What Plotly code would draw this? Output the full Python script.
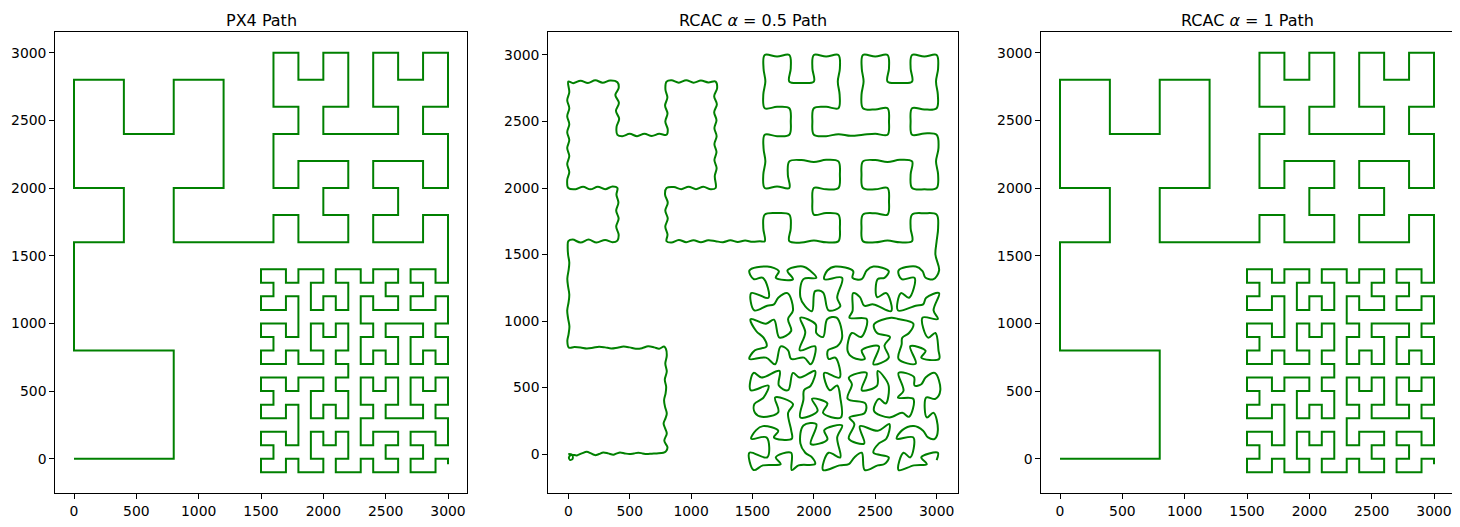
import plotly.graph_objects as go

# PX4 track: corner points of the nested Hilbert-style pattern
px4_x = [
    0, 800, 800, 0, 0, 400, 400, 0, 0, 400, 400, 800, 800, 1200, 1200, 800, 800,
    1600, 1600, 1800, 1800, 2200, 2200, 2000, 2000, 2200, 2200, 1800, 1800, 1600, 1600, 1800, 1800,
    1600, 1600, 1800, 1800, 2000, 2000, 2200, 2200, 2000, 2000, 2600, 2600, 2400, 2400, 2600, 2600,
    2800, 2800, 3000, 3000, 2800, 2800, 3000, 3000, 2800, 2800, 2400, 2400, 2600, 2600, 2400, 2400,
    2800, 2800, 3000,
    3000, 3000, 2900, 2900, 2800, 2700, 2700, 2800, 2800, 2700, 2700, 2800, 2900, 2900, 3000, 3000,
    3000, 2900, 2900, 3000, 3000, 3000, 2900, 2900, 2800, 2800, 2700, 2700, 2700, 2800, 2800, 2700,
    2600, 2500, 2500, 2600, 2600, 2600, 2500, 2500, 2400, 2400, 2300, 2300, 2300, 2400, 2400, 2300,
    2300, 2300, 2400, 2400, 2500, 2600, 2600, 2500, 2500, 2600, 2600, 2500, 2400, 2400, 2300, 2300,
    2200, 2100, 2100, 2200, 2200, 2200, 2100, 2100, 2000, 2000, 1900, 1900, 1900, 2000, 2000, 1900,
    1800, 1800, 1700, 1700, 1600, 1500, 1500, 1600, 1600, 1500, 1500, 1600, 1700, 1700, 1800, 1800,
    1800, 1800, 1700, 1700, 1600, 1500, 1500, 1600, 1600, 1500, 1500, 1600, 1700, 1700, 1800, 1800,
    1900, 2000, 2000, 1900, 1900, 1900, 2000, 2000, 2100, 2100, 2200, 2200, 2200, 2100, 2100, 2200,
    2200, 2100, 2100, 2200, 2200, 2200, 2100, 2100, 2000, 2000, 1900, 1900, 1900, 2000, 2000, 1900,
    1800, 1800, 1700, 1700, 1600, 1500, 1500, 1600, 1600, 1500, 1500, 1600, 1700, 1700, 1800, 1800,
    1800, 1800, 1700, 1700, 1600, 1500, 1500, 1600, 1600, 1500, 1500, 1600, 1700, 1700, 1800, 1800,
    1900, 2000, 2000, 1900, 1900, 1900, 2000, 2000, 2100, 2100, 2200, 2200, 2200, 2100, 2100, 2200,
    2300, 2300, 2400, 2400, 2500, 2600, 2600, 2500, 2500, 2600, 2600, 2500, 2400, 2400, 2300, 2300,
    2300, 2400, 2400, 2300, 2300, 2300, 2400, 2400, 2500, 2500, 2600, 2600, 2600, 2500, 2500, 2600,
    2700, 2800, 2800, 2700, 2700, 2700, 2800, 2800, 2900, 2900, 3000, 3000, 3000, 2900, 2900, 3000,
    3000, 3000, 2900, 2900, 2800, 2700, 2700, 2800, 2800, 2700, 2700, 2800, 2900, 2900, 3000, 3000,
]
px4_y = [
    0, 0, 800, 800, 1600, 1600, 2000, 2000, 2800, 2800, 2400, 2400, 2800, 2800, 2000, 2000, 1600,
    1600, 1800, 1800, 1600, 1600, 1800, 1800, 2000, 2000, 2200, 2200, 2000, 2000, 2400, 2400, 2600,
    2600, 3000, 3000, 2800, 2800, 3000, 3000, 2600, 2600, 2400, 2400, 2600, 2600, 3000, 3000, 2800,
    2800, 3000, 3000, 2600, 2600, 2400, 2400, 2000, 2000, 2200, 2200, 2000, 2000, 1800, 1800, 1600,
    1600, 1800, 1800,
    1400, 1300, 1300, 1400, 1400, 1400, 1300, 1300, 1200, 1200, 1100, 1100, 1100, 1200, 1200, 1100,
    1000, 1000, 900, 900, 800, 700, 700, 800, 800, 700, 700, 800, 900, 900, 1000, 1000,
    1000, 1000, 900, 900, 800, 700, 700, 800, 800, 700, 700, 800, 900, 900, 1000, 1000,
    1100, 1200, 1200, 1100, 1100, 1100, 1200, 1200, 1300, 1300, 1400, 1400, 1400, 1300, 1300, 1400,
    1400, 1400, 1300, 1300, 1200, 1100, 1100, 1200, 1200, 1100, 1100, 1200, 1300, 1300, 1400, 1400,
    1400, 1300, 1300, 1400, 1400, 1400, 1300, 1300, 1200, 1200, 1100, 1100, 1100, 1200, 1200, 1100,
    1000, 900, 900, 1000, 1000, 1000, 900, 900, 800, 800, 700, 700, 700, 800, 800, 700,
    700, 700, 800, 800, 900, 1000, 1000, 900, 900, 1000, 1000, 900, 800, 800, 700, 700,
    600, 600, 500, 500, 400, 300, 300, 400, 400, 300, 300, 400, 500, 500, 600, 600,
    600, 500, 500, 600, 600, 600, 500, 500, 400, 400, 300, 300, 300, 400, 400, 300,
    200, 100, 100, 200, 200, 200, 100, 100, 0, 0, -100, -100, -100, 0, 0, -100,
    -100, -100, 0, 0, 100, 200, 200, 100, 100, 200, 200, 100, 0, 0, -100, -100,
    -100, 0, 0, -100, -100, -100, 0, 0, 100, 100, 200, 200, 200, 100, 100, 200,
    300, 300, 400, 400, 500, 600, 600, 500, 500, 600, 600, 500, 400, 400, 300, 300,
    300, 300, 400, 400, 500, 600, 600, 500, 500, 600, 600, 500, 400, 400, 300, 300,
    200, 100, 100, 200, 200, 200, 100, 100, 0, 0, -100, -100, -100, 0, 0, -40,
]

# RCAC alpha=0.5 track (points are smoothed when drawn)
rcac05_x = [
    0, 30, 35, 15, 5, 25, 70, 110, 150, 185, 217, 250, 285, 325, 367, 395, 421, 460, 497, 535,
    570, 605, 638, 680, 720, 774, 795,
    808, 782, 802, 788, 776, 792, 802, 788, 780, 792, 797, 786, 802, 790, 802, 795,
    780, 740, 700, 650, 600, 550, 500, 450, 400, 350, 300, 250, 200, 150, 100, 50, 5,
    -8, 2, 9, -2, -9, 2, 8, -2, -8, 2, 8, -2, -5, 0,
    35, 100, 165, 230, 300, 360, 400,
    410, 390, 410, 390, 408, 392, 400,
    360, 300, 240, 180, 120, 60, 0,
    -9, 8, -9, 8, -9, 8, -9, 8, -9, 8, -9, 8, 0,
    40, 100, 160, 220, 280, 340, 400,
    410, 383, 412, 388, 414, 393, 400,
    440, 500, 560, 620, 680, 740, 800,
    810, 790, 808, 788, 807, 791, 800,
    840, 900, 960, 1020, 1080, 1140, 1200,
    1212, 1188, 1210, 1188, 1207, 1190, 1208, 1190, 1207, 1190, 1208, 1193, 1200,
    1160, 1100, 1040, 980, 920, 860, 800,
    788, 810, 790, 810, 790, 808, 800,
    840, 900, 960, 1020, 1080, 1140, 1200, 1260, 1320, 1380, 1440, 1500, 1560,
    1600, 1588, 1600, 1700, 1800, 1812, 1800, 1900, 2000, 2100,
    2200, 2212, 2200, 2100, 2000, 1988, 2000, 2100, 2200, 2212,
    2200, 2100, 2000, 1900, 1800, 1788, 1800, 1700, 1600, 1588,
    1605, 1590, 1600, 1700, 1800, 1812, 1800, 1700, 1600, 1588,
    1605, 1590, 1600, 1700, 1800, 1812, 1800, 1900, 2000, 1988,
    2000, 2100, 2200, 2212, 2195, 2210, 2200, 2100, 2000, 1988,
    2000, 2100, 2200, 2300, 2400, 2500, 2600, 2612, 2600, 2500,
    2400, 2388, 2405, 2390, 2400, 2500, 2600, 2612, 2600, 2700,
    2800, 2788, 2800, 2900, 3000, 3012, 2995, 3010, 3000, 2900,
    2800, 2788, 2800, 2900, 3000, 3015, 2995, 3012, 3000, 2900,
    2800, 2788, 2800, 2700, 2600, 2500, 2400, 2388, 2400, 2500,
    2600, 2612, 2600, 2500, 2400, 2388, 2400, 2500, 2600, 2700,
    2800, 2788, 2800, 2900, 3000, 3012, 3000, 2990,
    3020, 2975, 2910, 2885, 2830, 2690, 2715, 2820, 2775, 2710, 2685, 2830, 2890, 2915, 3020, 2975,
    3010, 2885, 2930, 2990, 3015, 3020, 2875, 2910, 2785, 2830, 2690, 2715, 2720, 2775, 2810, 2685,
    2630, 2490, 2515, 2620, 2575, 2610, 2485, 2530, 2390, 2415, 2320, 2275, 2310, 2385, 2430, 2290,
    2315, 2320, 2375, 2410, 2485, 2630, 2590, 2515, 2520, 2575, 2610, 2485, 2430, 2390, 2315, 2320,
    2175, 2110, 2085, 2230, 2190, 2215, 2120, 2075, 2010, 1985, 1930, 1890, 1915, 2020, 1975, 1910,
    1785, 1830, 1690, 1715, 1620, 1475, 1510, 1585, 1630, 1490, 1515, 1620, 1675, 1710, 1785, 1830,
    1790, 1815, 1720, 1675, 1610, 1485, 1530, 1590, 1615, 1520, 1475, 1610, 1685, 1730, 1790, 1815,
    1920, 1975, 2010, 1885, 1930, 1890, 2015, 2020, 2075, 2110, 2185, 2230, 2190, 2115, 2120, 2175,
    2210, 2085, 2130, 2190, 2215, 2220, 2075, 2110, 1985, 2030, 1890, 1915, 1920, 1975, 2010, 1885,
    1830, 1790, 1715, 1720, 1575, 1510, 1485, 1630, 1590, 1515, 1520, 1575, 1710, 1685, 1830, 1790,
    1815, 1820, 1675, 1710, 1585, 1530, 1490, 1615, 1620, 1475, 1510, 1585, 1730, 1690, 1815, 1820,
    1875, 2010, 1985, 1930, 1890, 1915, 2020, 1975, 2110, 2085, 2230, 2190, 2215, 2120, 2075, 2210,
    2285, 2330, 2390, 2415, 2520, 2575, 2610, 2485, 2530, 2590, 2615, 2520, 2375, 2410, 2285, 2330,
    2290, 2415, 2420, 2275, 2310, 2285, 2430, 2390, 2515, 2520, 2575, 2610, 2585, 2530, 2490, 2615,
    2720, 2775, 2810, 2685, 2730, 2690, 2815, 2820, 2875, 2910, 2985, 3030, 2990, 2915, 2920, 2975,
    3010, 2985, 2930, 2890, 2815, 2720, 2675, 2810, 2785, 2730, 2690, 2815, 2920, 2875, 3010, 3000,
]
rcac05_y = [
    0, -5, -35, -45, -25, -5, -10, 5, 17, 5, -8, 0, 12, 5, -5, 5, 12, 5, 0, 5,
    10, 5, 0, 3, 5, 10, 20,
    50, 100, 155, 195, 230, 270, 305, 355, 405, 455, 506, 560, 620, 680, 740, 790,
    808, 792, 802, 810, 796, 792, 802, 808, 800, 794, 802, 807, 799, 794, 801, 804, 800,
    850, 900, 960, 1020, 1080, 1140, 1200, 1260, 1320, 1380, 1440, 1500, 1560, 1600,
    1612, 1590, 1612, 1590, 1610, 1593, 1605,
    1650, 1710, 1770, 1830, 1890, 1950, 2000,
    2012, 1991, 2010, 1990, 2010, 1991, 2000,
    2060, 2120, 2180, 2240, 2300, 2360, 2420, 2480, 2540, 2600, 2660, 2720, 2800,
    2788, 2807, 2790, 2810, 2791, 2808, 2795,
    2750, 2700, 2640, 2580, 2520, 2460, 2400,
    2390, 2407, 2390, 2408, 2391, 2407, 2400,
    2440, 2500, 2560, 2620, 2680, 2740, 2800,
    2810, 2792, 2810, 2792, 2808, 2794, 2800,
    2750, 2690, 2630, 2570, 2510, 2450, 2390, 2330, 2270, 2210, 2150, 2090, 2000,
    1990, 2010, 1991, 2010, 1991, 2007, 2000,
    1950, 1890, 1830, 1770, 1710, 1650, 1600,
    1590, 1610, 1593, 1608, 1592, 1607, 1600, 1593, 1607, 1595, 1605, 1596, 1600,
    1600, 1700, 1800, 1812, 1800, 1700, 1600, 1590, 1605, 1592,
    1600, 1700, 1800, 1812, 1800, 1900, 2000, 1990, 2000, 2100,
    2200, 2212, 2195, 2210, 2200, 2100, 2000, 2012, 2000, 2100,
    2200, 2300, 2400, 2390, 2400, 2500, 2600, 2610, 2600, 2700,
    2800, 2900, 3000, 2988, 3000, 2900, 2800, 2790, 2800, 2900,
    3000, 2988, 3000, 2900, 2800, 2700, 2600, 2610, 2600, 2500,
    2400, 2390, 2405, 2392, 2400, 2408, 2400, 2500, 2600, 2590,
    2600, 2700, 2800, 2900, 3000, 2988, 3000, 2900, 2800, 2790,
    2800, 2900, 3000, 2988, 3000, 2900, 2800, 2700, 2600, 2590,
    2600, 2500, 2400, 2410, 2400, 2300, 2200, 2100, 2000, 1990,
    2000, 2100, 2200, 2212, 2195, 2210, 2200, 2100, 2000, 1990,
    2000, 1900, 1800, 1810, 1800, 1700, 1600, 1592, 1605, 1592,
    1600, 1700, 1800, 1810, 1800, 1700, 1600, 1500,
    1380, 1315, 1325, 1375, 1410, 1380, 1315, 1325, 1175, 1210, 1080, 1115, 1125, 1175, 1210, 1080,
    1015, 1025, 875, 910, 780, 715, 725, 775, 810, 680, 715, 825, 875, 910, 980, 1015,
    1025, 975, 910, 880, 815, 725, 675, 810, 780, 715, 725, 775, 910, 880, 1015, 1025,
    1075, 1210, 1180, 1115, 1125, 1075, 1210, 1180, 1315, 1325, 1375, 1410, 1380, 1315, 1325, 1375,
    1410, 1380, 1315, 1325, 1175, 1110, 1080, 1215, 1225, 1075, 1110, 1180, 1315, 1325, 1375, 1410,
    1380, 1315, 1325, 1375, 1410, 1380, 1315, 1325, 1175, 1210, 1080, 1115, 1125, 1175, 1210, 1080,
    1015, 925, 875, 1010, 980, 1015, 925, 875, 810, 780, 715, 725, 675, 810, 780, 715,
    725, 675, 810, 780, 915, 1025, 975, 910, 880, 1015, 1025, 875, 810, 780, 715, 725,
    575, 610, 480, 515, 425, 275, 310, 380, 415, 325, 275, 410, 480, 515, 625, 575,
    610, 480, 515, 625, 575, 610, 480, 515, 425, 375, 310, 280, 315, 425, 375, 310,
    180, 115, 125, 175, 210, 180, 115, 125, -25, 10, -120, -85, -75, -25, 10, -120,
    -85, -75, -25, 10, 80, 215, 225, 75, 110, 180, 215, 125, -25, 10, -120, -85,
    -75, -25, 10, -120, -85, -75, -25, 10, 80, 115, 225, 175, 210, 80, 115, 225,
    275, 310, 380, 415, 525, 575, 610, 480, 515, 625, 575, 510, 380, 415, 325, 275,
    310, 280, 415, 425, 475, 610, 580, 515, 525, 575, 610, 480, 415, 425, 275, 310,
    180, 115, 125, 175, 210, 180, 115, 125, -25, 10, -120, -85, -75, -25, 10, -45,
]

# RCAC alpha=1 track sits on top of the PX4 one at this scale
rcac1_x, rcac1_y = px4_x, px4_y

titles = ['PX4 Path', 'RCAC <i>α</i> = 0.5 Path', 'RCAC <i>α</i> = 1 Path']
tick_vals = [0, 500, 1000, 1500, 2000, 2500, 3000]

# the page body keeps an 8px margin, so lay out in a slightly smaller canvas
OFF = 8
W, H = 1460 - OFF, 527 - OFF
x_doms = [(55.3, 466.7), (548.3, 958.0), (1041.3, 1452.7)]   # px in the reference
y_top, y_bot = 31.7, 493.3
y_dom = [(H - (y_bot - OFF)) / H, (H - (y_top - OFF)) / H]
x_ranges = [[-150, 3150], [-163, 3174], [-150, 3150]]
y_ranges = [[-255, 3155], [-295, 3175], [-255, 3155]]

tracks = [(px4_x, px4_y, 'linear'), (rcac05_x, rcac05_y, 'spline'), (rcac1_x, rcac1_y, 'linear')]

fig = go.Figure()
font = 'DejaVu Sans'
for i, (xs, ys, shape) in enumerate(tracks):
    n = '' if i == 0 else str(i + 1)
    fig.add_trace(go.Scatter(x=xs, y=ys, mode='lines', line=dict(color='green', width=2, shape=shape),
                             xaxis='x' + n, yaxis='y' + n, showlegend=False))
    axis_style = dict(showline=True, linecolor='black', linewidth=1.1, mirror=True,
                      ticks='outside', ticklen=5, tickwidth=1.1, tickcolor='black',
                      showgrid=False, zeroline=False, tickvals=tick_vals,
                      tickfont=dict(family=font, size=13.9, color='black'))
    x0, x1 = x_doms[i][0] - OFF, x_doms[i][1] - OFF
    fig.update_layout({
        'xaxis' + n: dict(domain=[x0 / W, x1 / W], range=x_ranges[i], anchor='y' + n, **axis_style),
        'yaxis' + n: dict(domain=y_dom, range=y_ranges[i], anchor='x' + n, **axis_style),
    })
    fig.add_annotation(text=titles[i], xref='paper', yref='paper',
                       x=(x0 + x1) / 2 / W, y=y_dom[1],
                       xanchor='center', yanchor='bottom', yshift=1, borderpad=0, showarrow=False,
                       font=dict(family=font, size=16, color='black'))

fig.update_layout(width=W, height=H, margin=dict(l=0, r=0, t=0, b=0),
                  plot_bgcolor='white', paper_bgcolor='white')
fig.write_html('out.html')
